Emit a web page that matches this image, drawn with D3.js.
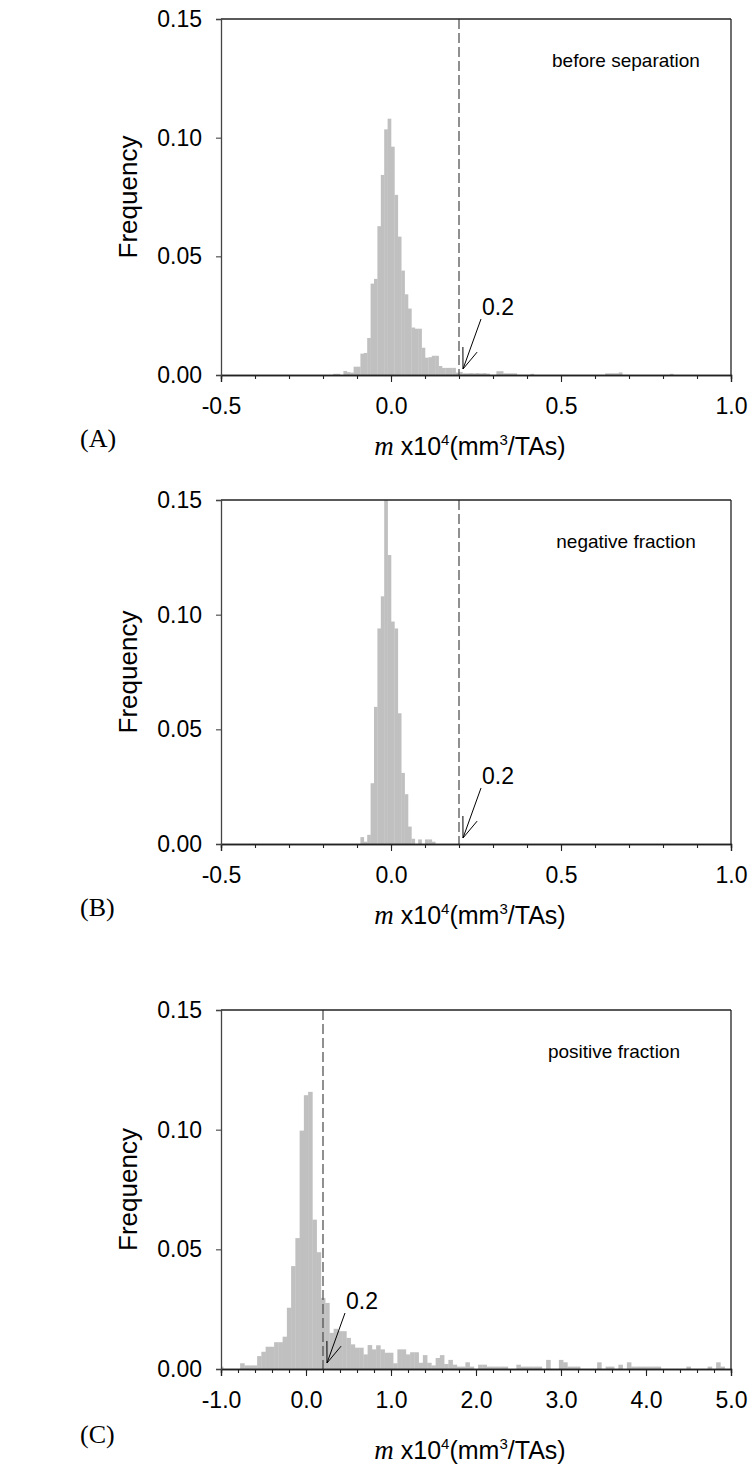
<!DOCTYPE html>
<html>
<head>
<meta charset="utf-8">
<script src="https://cdn.jsdelivr.net/npm/d3@7"></script>
<style>
  html, body { margin: 0; padding: 0; background: #fff; }
  svg { display: block; }
</style>
</head>
<body>
<svg id="chart" width="752" height="1479"></svg>
<script>
// ---------------- DATA ----------------
// Panel A: before separation (bin start, width 0.01)
const aBinStart = [-0.17,-0.16,-0.14,-0.13,-0.12,-0.11,-0.10,-0.09,-0.08,-0.07,-0.06,-0.05,-0.04,-0.03,-0.02,-0.01,
  0.00,0.01,0.02,0.03,0.04,0.05,0.06,0.07,0.08,0.09,0.10,0.11,0.12,0.13,0.14,0.15,0.16,0.17,0.18,0.19,
  0.20,0.21,0.22,0.23,0.24,0.25,0.26,0.27,0.28,0.31,0.32,0.33,0.34,0.35,0.36,0.41,0.63,0.64,0.65,0.66,0.67,0.82];
const aFreq = [0.0005,0.0005,0.0017,0.0012,0.0010,0.0035,0.0035,0.0090,0.0093,0.0156,0.0385,0.0405,0.0627,0.0843,0.1035,0.1080,
  0.0962,0.0759,0.0583,0.0440,0.0340,0.0280,0.0200,0.0195,0.0195,0.0115,0.0073,0.0075,0.0081,0.0081,0.0038,0.0030,0.0030,0.0030,0.0030,0.0010,
  0.0013,0.0007,0.0007,0.0008,0.0007,0.0008,0.0007,0.0008,0.0006,0.0016,0.0016,0.0007,0.0007,0.0007,0.0007,0.0005,0.0007,0.0007,0.0007,0.0007,0.0011,0.0005];

// Panel B: negative fraction (bin start, width 0.01)
const bBinStart = [-0.09,-0.08,-0.07,-0.06,-0.05,-0.04,-0.03,-0.02,-0.01,0.00,0.01,0.02,0.03,0.04,0.05,0.06,0.08,0.10,0.11,0.12];
const bFreq = [0.0030,0.0010,0.0040,0.0265,0.0598,0.0940,0.1080,0.1500,0.1260,0.0970,0.0940,0.0570,0.0310,0.0217,0.0076,0.0023,0.0020,0.0020,0.0020,0.0010];

// Panel C: positive fraction (bin centre, width 0.05)
const cBinCenter = [-1.00,-0.75,-0.70,-0.65,-0.60,-0.55,-0.50,-0.45,-0.40,-0.35,-0.30,-0.25,-0.20,-0.15,-0.10,-0.05,
  0.00,0.05,0.10,0.15,0.20,0.25,0.30,0.35,0.40,0.45,0.50,0.55,0.60,0.65,0.70,0.75,0.80,0.85,0.90,0.95,
  1.00,1.05,1.10,1.15,1.20,1.25,1.30,1.35,1.40,1.45,1.50,1.55,1.60,1.65,1.70,1.75,1.80,1.85,1.90,1.95,
  2.05,2.10,2.15,2.20,2.25,2.30,2.35,2.50,2.55,2.60,2.65,2.70,2.75,2.85,3.00,3.05,3.10,3.15,3.20,
  3.45,3.55,3.60,3.70,3.80,3.85,3.90,3.95,4.00,4.05,4.10,4.15,4.50,4.75,4.85,4.90];
const cFreq = [0.0010,0.0024,0.0015,0.0015,0.0015,0.0054,0.0072,0.0093,0.0093,0.0112,0.0112,0.0135,0.0256,0.0430,0.0547,0.0996,
  0.1144,0.1158,0.0624,0.0488,0.0297,0.0276,0.0151,0.0168,0.0158,0.0158,0.0130,0.0103,0.0089,0.0089,0.0061,0.0100,0.0082,0.0099,0.0082,0.0068,
  0.0068,0.0024,0.0082,0.0082,0.0061,0.0070,0.0070,0.0026,0.0058,0.0026,0.0015,0.0046,0.0058,0.0021,0.0038,0.0018,0.0010,0.0010,0.0028,0.0010,
  0.0018,0.0018,0.0010,0.0010,0.0010,0.0010,0.0010,0.0018,0.0010,0.0010,0.0010,0.0010,0.0010,0.0038,0.0038,0.0028,0.0010,0.0010,0.0010,
  0.0028,0.0010,0.0010,0.0018,0.0028,0.0010,0.0010,0.0010,0.0010,0.0010,0.0010,0.0010,0.0010,0.0010,0.0028,0.0010];

// Axis ticks
const yTicks = [0.00, 0.05, 0.10, 0.15];
const abMajorTicks = [-0.5, 0.0, 0.5, 1.0];
const abMajorLabels = ["-0.5", "0.0", "0.5", "1.0"];
const abMinorTicks = [-0.5,-0.4,-0.3,-0.2,-0.1,0.0,0.1,0.2,0.3,0.4,0.5,0.6,0.7,0.8,0.9,1.0];
const cMajorTicks = [-1, 0, 1, 2, 3, 4, 5];
const cMajorLabels = ["-1.0","0.0","1.0","2.0","3.0","4.0","5.0"];
const cMinorTicks = [-1.0,-0.8,-0.6,-0.4,-0.2,0.0,0.2,0.4,0.6,0.8,1.0,1.2,1.4,1.6,1.8,2.0,2.2,2.4,2.6,2.8,3.0,3.2,3.4,3.6,3.8,4.0,4.2,4.4,4.6,4.8,5.0];
const threshold = 0.2;
const panelTags = ["(A)", "(B)", "(C)"];
const panelNotes = ["before separation", "negative fraction", "positive fraction"];

// ---------------- DRAW ----------------
const svg = d3.select("#chart");
const SANS = "'Liberation Sans', Arial, sans-serif";
const SERIF = "'Liberation Serif', 'Times New Roman', serif";
const L = 221, R = 731;

function drawPanel(p, idx) {
  const g = svg.append("g");
  const x = d3.scaleLinear().domain(p.domain).range([L, R]);
  const y = d3.scaleLinear().domain([0, 0.15]).range([p.bottom, p.top]);
  const clipId = "clip" + idx;
  svg.append("clipPath").attr("id", clipId).append("rect")
    .attr("x", L).attr("y", p.top).attr("width", R - L).attr("height", p.bottom - p.top);

  const bars = p.starts.map((s, i) => ({ x0: s, x1: s + p.width, f: p.freq[i] }));
  g.append("g").attr("clip-path", `url(#${clipId})`)
    .selectAll("rect").data(bars).join("rect")
    .attr("x", d => x(d.x0))
    .attr("width", d => x(d.x1) - x(d.x0) + 0.3)
    .attr("y", d => y(d.f))
    .attr("height", d => y(0) - y(d.f))
    .attr("fill", "#c0c0c0");

  // dashed threshold
  g.append("line")
    .attr("x1", x(threshold)).attr("x2", x(threshold))
    .attr("y1", y(0.15)).attr("y2", y(0))
    .attr("stroke", "#555").attr("stroke-width", 1.3)
    .attr("stroke-dasharray", "10,4");

  // frame top/right
  g.append("line").attr("x1", L).attr("x2", R).attr("y1", p.top).attr("y2", p.top)
    .attr("stroke", "#222").attr("stroke-width", 1.3);
  g.append("line").attr("x1", R).attr("x2", R).attr("y1", p.top).attr("y2", p.bottom)
    .attr("stroke", "#222").attr("stroke-width", 1.3);

  // x axis minor + major
  const xMinor = g.append("g").attr("transform", `translate(0,${p.bottom})`)
    .call(d3.axisBottom(x).tickValues(p.minor).tickSize(4).tickFormat(""));
  const xMajor = g.append("g").attr("transform", `translate(0,${p.bottom})`)
    .call(d3.axisBottom(x).tickValues(p.major).tickSize(7).tickPadding(16)
      .tickFormat((d, i) => p.majorLabels[i]));
  [xMinor, xMajor].forEach(a => {
    a.select(".domain").attr("stroke", "#222").attr("stroke-width", 1.3);
    a.selectAll(".tick line").attr("stroke", "#222").attr("stroke-width", 1.1);
    a.selectAll("text").attr("font-family", SANS).attr("font-size", 23).attr("fill", "#000");
  });

  const yAx = g.append("g").attr("transform", `translate(${L},0)`)
    .call(d3.axisLeft(y).tickValues(yTicks).tickSize(5).tickPadding(14).tickFormat(d3.format(".2f")));
  yAx.select(".domain").attr("stroke", "#444").attr("stroke-width", 1.3);
  yAx.selectAll(".tick line").attr("stroke", "#444").attr("stroke-width", 1.1);
  yAx.selectAll("text").attr("font-family", SANS).attr("font-size", 23).attr("fill", "#000");

  // y title
  g.append("text")
    .attr("transform", `translate(137,${(p.top + p.bottom) / 2}) rotate(-90)`)
    .attr("text-anchor", "middle")
    .attr("font-family", SANS).attr("font-size", 26)
    .text("Frequency");

  // x title
  const t = g.append("text")
    .attr("x", (L + R) / 2 - 6).attr("y", p.bottom + p.titleDy)
    .attr("text-anchor", "middle")
    .attr("font-family", SANS).attr("font-size", 25);
  t.append("tspan").attr("font-family", SERIF).attr("font-style", "italic").attr("font-size", 27).text("m");
  t.append("tspan").text(" x10");
  t.append("tspan").attr("font-size", 15).attr("dy", -10).text("4");
  t.append("tspan").attr("dy", 10).text("(mm");
  t.append("tspan").attr("font-size", 15).attr("dy", -10).text("3");
  t.append("tspan").attr("dy", 10).text("/TAs)");

  // panel tag
  g.append("text").attr("x", 80).attr("y", p.bottom + p.tagDy)
    .attr("font-family", SERIF).attr("font-size", 26).text(panelTags[idx]);

  // note
  g.append("text").attr("x", p.noteX).attr("y", p.top + 48)
    .attr("text-anchor", "middle")
    .attr("font-family", SANS).attr("font-size", 19).text(panelNotes[idx]);

  // arrow + label
  const tipX = x(threshold) + 4, tipY = p.bottom - 6;
  const sx = tipX + 18, sy = tipY - 50;
  g.append("line").attr("x1", sx).attr("y1", sy).attr("x2", tipX).attr("y2", tipY)
    .attr("stroke", "#000").attr("stroke-width", 1);
  const ang = Math.atan2(tipY - sy, tipX - sx);
  [0.35, -0.35].forEach(da => {
    g.append("line").attr("x1", tipX).attr("y1", tipY)
      .attr("x2", tipX - 22 * Math.cos(ang + da)).attr("y2", tipY - 22 * Math.sin(ang + da))
      .attr("stroke", "#000").attr("stroke-width", 1);
  });
  g.append("text").attr("x", sx + 1).attr("y", sy - 4)
    .attr("font-family", SANS).attr("font-size", 23).text(String(threshold));
}

const panels = [
  { domain: [-0.5, 1.0], top: 19, bottom: 375, starts: aBinStart, freq: aFreq, width: 0.01,
    major: abMajorTicks, majorLabels: abMajorLabels, minor: abMinorTicks, titleDy: 80, tagDy: 72, noteX: 626 },
  { domain: [-0.5, 1.0], top: 500, bottom: 844, starts: bBinStart, freq: bFreq, width: 0.01,
    major: abMajorTicks, majorLabels: abMajorLabels, minor: abMinorTicks, titleDy: 80, tagDy: 72, noteX: 626 },
  { domain: [-1.0, 5.0], top: 1010, bottom: 1369, starts: cBinCenter.map(c => c - 0.025), freq: cFreq, width: 0.05,
    major: cMajorTicks, majorLabels: cMajorLabels, minor: cMinorTicks, titleDy: 90, tagDy: 74, noteX: 614 }
];
panels.forEach(drawPanel);
</script>
</body>
</html>
